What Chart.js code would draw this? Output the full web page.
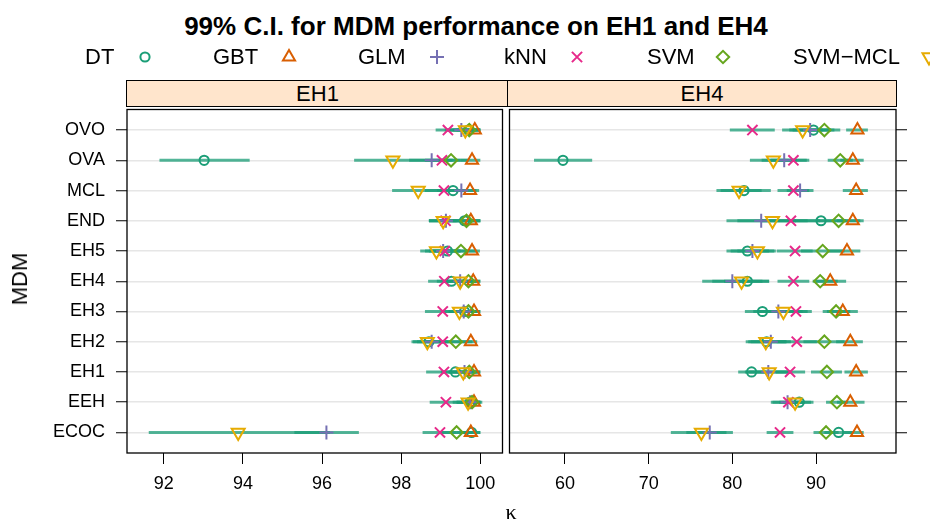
<!DOCTYPE html>
<html>
<head>
<meta charset="utf-8">
<script src="https://cdn.jsdelivr.net/npm/chart.js"></script>
<style>
body{margin:0;width:930px;height:522px;overflow:hidden;background:#fff;font-family:"Liberation Sans",Arial,sans-serif;color:#000;position:relative}
.abs{position:absolute;white-space:nowrap}
#title{left:0;width:952px;top:11px;text-align:center;font-weight:bold;font-size:26px;line-height:30px}
.leg{top:44px;font-size:22px;line-height:26px}
.strip{top:80px;height:25px;background:#ffe5cc;border:1px solid #000;text-align:center;font-size:22px;line-height:25px;box-sizing:content-box}
#ylab{left:20px;top:279px;font-size:22px;transform:translate(-50%,-50%) rotate(-90deg)}
#xlab{left:511px;top:512px;font-size:22px;transform:translate(-50%,-50%);font-family:"Liberation Serif",serif}
canvas{position:absolute}
</style>
</head>
<body>
<div id="title" class="abs">99% C.I. for MDM performance on EH1 and EH4</div>
<canvas id="legSym" width="930" height="30" style="left:0;top:42px"></canvas>
<div id="strip1" class="abs strip" style="left:126px;width:381px"></div>
<div id="strip2" class="abs strip" style="left:507px;width:388px"></div>
<canvas id="left" width="512" height="422" style="left:0;top:100px"></canvas>
<canvas id="right" width="430" height="422" style="left:500px;top:100px"></canvas>
<div id="ylab" class="abs">MDM</div>
<div id="xlab" class="abs">κ</div>
<script>
// categories (top to bottom) and groups
const rows = ['OVO','OVA','MCL','END','EH5','EH4','EH3','EH2','EH1','EEH','ECOC'];
const models = ['DT','GBT','GLM','kNN','SVM','SVM\u2212MCL'];
const panels = ['EH1','EH4'];

// panel EH1: point estimates and 99% C.I.
const eh1DT  = [99.70, 93.02, 99.31, 99.60, 99.17, 99.27, 99.60, 98.70, 99.37, 99.74, 99.78];
const eh1GBT = [99.86, 99.79, 99.74, 99.76, 99.79, 99.82, 99.84, 99.76, 99.84, 99.84, 99.76];
const eh1GLM = [99.52, 98.77, 99.52, 99.13, 99.06, 99.49, 99.58, 98.77, 99.60, 99.74, 96.11];
const eh1KNN = [99.18, 99.03, 99.08, 99.12, 99.10, 99.09, 99.05, 99.05, 99.08, 99.13, 98.98];
const eh1SVM = [99.72, 99.26, null, 99.65, 99.51, 99.70, 99.70, 99.38, 99.72, 99.79, 99.40];
const eh1MCL = [99.62, 97.79, 98.43, 99.06, 98.89, 99.49, 99.47, 98.66, 99.57, 99.69, 93.88];

const eh1DTlo  = [99.30, 91.89, 98.90, 99.20, 98.80, 98.90, 99.20, 98.30, 99.00, 99.40, 99.40];
const eh1DThi  = [100.00, 94.17, 99.70, 100.00, 99.50, 99.60, 99.90, 99.10, 99.70, 100.00, 100.00];
const eh1GBTlo = [99.60, 99.50, 99.40, 99.50, 99.50, 99.60, 99.60, 99.50, 99.60, 99.60, 99.50];
const eh1GBThi = [100.00, 100.00, 99.97, 100.00, 99.99, 100.00, 100.00, 99.92, 100.00, 100.00, 100.00];
const eh1GLMlo = [99.10, 98.20, 99.10, 98.70, 98.60, 99.10, 99.20, 98.40, 99.20, 99.40, 95.30];
const eh1GLMhi = [99.90, 99.30, 99.90, 99.50, 99.50, 99.90, 99.90, 99.20, 99.95, 100.00, 96.93];
const eh1KNNlo = [98.87, 98.60, 98.60, 98.70, 98.70, 98.68, 98.60, 98.60, 98.63, 98.72, 98.54];
const eh1KNNhi = [99.50, 99.50, 99.50, 99.50, 99.50, 99.50, 99.50, 99.50, 99.50, 99.50, 99.40];
const eh1SVMlo = [99.40, 98.80, null, 99.30, 99.10, 99.40, 99.40, 99.00, 99.40, 99.50, 99.00];
const eh1SVMhi = [100.00, 99.70, null, 100.00, 99.90, 100.00, 100.00, 99.80, 100.00, 100.05, 99.80];
const eh1MCLlo = [99.20, 96.81, 97.77, 98.70, 98.48, 99.10, 99.00, 98.26, 99.20, 99.30, 91.62];
const eh1MCLhi = [100.00, 98.80, 99.10, 99.40, 99.30, 99.90, 99.90, 99.05, 99.90, 100.00, 96.20];

// panel EH4
const eh4DT  = [89.7, 59.76, 81.4, 90.6, 81.8, 81.8, 83.6, 84.1, 82.3, 88.0, 92.7];
const eh4GBT = [94.95, 94.4, 94.8, 94.4, 93.7, 91.7, 93.2, 94.1, 94.8, 94.1, 94.9];
const eh4GLM = [89.3, 86.2, 88.1, 83.45, 82.4, 80.0, 85.5, 84.6, 84.3, 86.6, 77.3];
const eh4KNN = [82.4, 87.3, 87.3, 87.0, 87.5, 87.3, 87.6, 87.7, 86.9, 86.7, 85.7];
const eh4SVM = [91.0, 92.9, null, 92.7, 90.8, 90.5, 92.4, 91.0, 91.3, 92.5, 91.2];
const eh4MCL = [88.4, 84.9, 80.8, 84.8, 83.0, 81.1, 86.1, 84.0, 84.4, 87.5, 76.3];

const eh4DTlo  = [87.2, 56.3, 78.6, 87.5, 79.3, 79.0, 81.5, 81.9, 80.7, 86.3, 91.0];
const eh4DThi  = [92.2, 63.25, 84.6, 93.6, 84.4, 84.4, 85.8, 86.4, 84.0, 89.7, 94.4];
const eh4GBTlo = [93.6, 92.9, 93.2, 92.5, 91.5, 90.0, 91.3, 92.4, 93.4, 92.5, 93.3];
const eh4GBThi = [96.2, 95.7, 96.2, 95.7, 95.3, 93.6, 95.0, 95.6, 96.2, 95.8, 95.7];
const eh4GLMlo = [86.8, 83.5, 86.5, 79.3, 79.8, 76.4, 82.5, 82.2, 81.5, 84.6, 74.5];
const eh4GLMhi = [91.8, 88.9, 89.7, 87.6, 85.0, 83.6, 88.4, 87.0, 87.0, 88.6, 80.07];
const eh4KNNlo = [79.7, 84.6, 85.4, 83.5, 85.3, 85.4, 85.8, 85.3, 85.2, 84.8, 84.1];
const eh4KNNhi = [85.07, 89.2, 89.2, 90.5, 89.6, 89.2, 89.5, 90.1, 88.7, 88.6, 87.3];
const eh4SVMlo = [89.1, 91.4, null, 90.0, 88.2, 89.6, 90.8, 88.5, 89.4, 91.2, 89.7];
const eh4SVMhi = [92.9, 94.4, null, 95.3, 93.4, 92.6, 94.1, 93.4, 93.1, 93.8, 92.7];
const eh4MCLlo = [85.95, 82.1, 78.1, 80.6, 80.6, 77.6, 83.1, 81.6, 81.9, 85.6, 72.65];
const eh4MCLhi = [90.8, 87.7, 83.5, 89.0, 85.2, 84.4, 89.0, 86.5, 86.9, 89.4, 79.3];

// axis ticks
const eh1Ticks = [92, 94, 96, 98, 100];
const eh4Ticks = [60, 70, 80, 90];

/* styles */
const colors = ['#1B9E77','#D95F02','#7570B3','#E7298A','#66A61E','#E6AB02'];
const shapes = ['circle','triangle','cross','crossRot','rectRot','triangle'];
const radii  = [4.6, 7, 7, 7.2, 6.2, 7.5];
const rotate = [0, 0, 0, 0, 0, 180];
const segColor = 'rgba(27,158,119,0.75)';
const FONT = '"Liberation Sans", Arial, sans-serif';

document.getElementById('strip1').textContent = panels[0];
document.getElementById('strip2').textContent = panels[1];

/* LEGENDA */
const legTextX = [85, 213, 358, 504, 647, 793];
const legSymX  = [145, 289, 437, 577, 723, 929];
const lctx = document.getElementById('legSym').getContext('2d');
models.forEach((m, k) => {
    const d = document.createElement('div');
    d.className = 'abs leg';
    d.style.left = legTextX[k] + 'px';
    d.textContent = m;
    document.body.appendChild(d);
    lctx.strokeStyle = colors[k];
    lctx.fillStyle = 'rgba(0,0,0,0)';
    lctx.lineWidth = 2;
    Chart.helpers.drawPoint(lctx, {pointStyle: shapes[k], radius: radii[k], rotation: rotate[k], borderWidth: 2}, legSymX[k], 15);
});

/* segmentos + moldura */
const ciPlugin = {
    id: 'ciFrame',
    beforeDatasetsDraw(chart){
        const ctx = chart.ctx, a = chart.chartArea;
        const xs = chart.scales.x, ys = chart.scales.y;
        ctx.save();
        ctx.beginPath(); ctx.rect(a.left, a.top, a.right - a.left, a.bottom - a.top); ctx.clip();
        ctx.strokeStyle = segColor;
        ctx.lineWidth = 3;
        chart.data.datasets.forEach(ds => {
            ds.lo.forEach((lo, i) => {
                if(lo === null) return;
                const y = ys.getPixelForValue(i);
                ctx.beginPath();
                ctx.moveTo(xs.getPixelForValue(lo), y);
                ctx.lineTo(xs.getPixelForValue(ds.hi[i]), y);
                ctx.stroke();
            });
        });
        ctx.restore();
    },
    afterDraw(chart){
        const ctx = chart.ctx, a = chart.chartArea;
        ctx.save();
        ctx.strokeStyle = '#000';
        ctx.lineWidth = 1.3;
        ctx.strokeRect(a.left, a.top, a.right - a.left, a.bottom - a.top);
        ctx.restore();
    }
};

// no automatic label-overflow padding: panels must sit exactly
const noPad = s => { s.paddingLeft = 0; s.paddingRight = 0; s.paddingTop = 0; s.paddingBottom = 0; };

function makePanel(id, vals, los, his, xmin, xmax, xticks, side){
    const datasets = models.map((m, k) => ({
        label: m,
        data: rows.map((r, i) => ({x: vals[k][i], y: i})).filter(p => p.x !== null),
        lo: los[k], hi: his[k],
        pointStyle: shapes[k],
        pointRadius: radii[k],
        pointRotation: rotate[k],
        pointBorderWidth: 2,
        borderColor: colors[k],
        backgroundColor: 'rgba(0,0,0,0)',
        order: models.length - k
    }));
    return new Chart(document.getElementById(id), {
        type: 'scatter',
        data: {datasets},
        plugins: [ciPlugin],
        options: {
            responsive: false,
            animation: false,
            devicePixelRatio: 1,
            layout: {padding: {top: 6, bottom: 0, left: side === 'left' ? 0 : 4, right: side === 'left' ? 4 : 0}},
            plugins: {legend: {display: false}, tooltip: {enabled: false}},
            scales: {
                x: {
                    type: 'linear', min: xmin, max: xmax,
                    afterBuildTicks: s => { s.ticks = xticks.map(v => ({value: v})); },
                    afterFit: s => { s.height = 69; noPad(s); },
                    ticks: {font: {size: 18, family: FONT}, color: '#000', padding: 9, maxRotation: 0, autoSkip: false, callback: v => String(v)},
                    grid: {drawOnChartArea: false, drawTicks: true, tickLength: 11, tickColor: '#000', tickWidth: 1},
                    border: {display: false}
                },
                y: {
                    type: 'linear', reverse: true, min: -0.68, max: rows.length - 1 + 0.68,
                    position: side,
                    afterBuildTicks: s => { s.ticks = rows.map((r, i) => ({value: i})); },
                    afterFit: s => { s.width = side === 'left' ? 127 : 34; noPad(s); },
                    ticks: {font: {size: 18, family: FONT}, color: '#000', padding: 11, autoSkip: false,
                        callback: v => side === 'left' ? rows[v] : ''},
                    grid: {color: '#e6e6e6', lineWidth: 1.5, drawTicks: true, tickLength: 11, tickColor: '#000', tickWidth: 1},
                    border: {display: false}
                }
            }
        }
    });
}

makePanel('left',
    [eh1DT, eh1GBT, eh1GLM, eh1KNN, eh1SVM, eh1MCL],
    [eh1DTlo, eh1GBTlo, eh1GLMlo, eh1KNNlo, eh1SVMlo, eh1MCLlo],
    [eh1DThi, eh1GBThi, eh1GLMhi, eh1KNNhi, eh1SVMhi, eh1MCLhi],
    91.07, 100.56, eh1Ticks, 'left');

makePanel('right',
    [eh4DT, eh4GBT, eh4GLM, eh4KNN, eh4SVM, eh4MCL],
    [eh4DTlo, eh4GBTlo, eh4GLMlo, eh4KNNlo, eh4SVMlo, eh4MCLlo],
    [eh4DThi, eh4GBThi, eh4GLMhi, eh4KNNhi, eh4SVMhi, eh4MCLhi],
    53.37, 99.56, eh4Ticks, 'right');
</script>
</body>
</html>
